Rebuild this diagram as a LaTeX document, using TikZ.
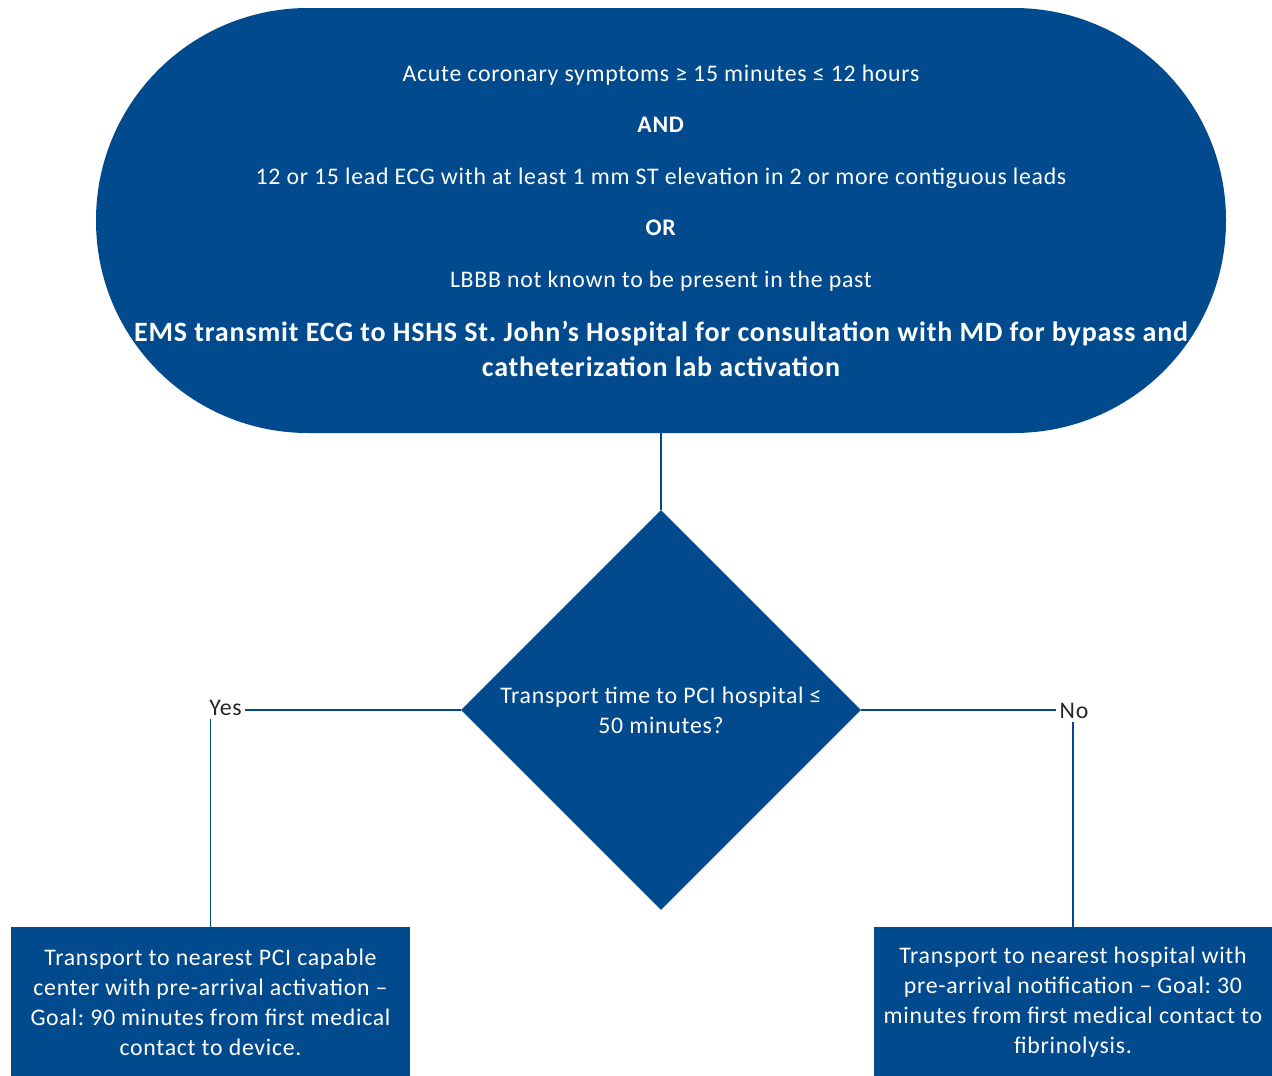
\documentclass[tikz,border=0pt]{standalone}
\usepackage{fontspec}
\setmainfont{Carlito}[LetterSpace=3]
\frenchspacing
\usetikzlibrary{shapes.geometric}
\definecolor{emsblue}{RGB}{0,74,141}

\begin{document}
\begin{tikzpicture}[x=1pt,y=-1pt,
	stadium/.style={fill=emsblue, draw=none, rounded corners=212pt, minimum width=1130pt, minimum height=425pt, text=white, align=flush center, text width=1120pt, inner sep=0pt, font=\fontsize{23.8}{51.5}\selectfont},
	decision/.style={diamond, fill=emsblue, minimum width=400pt, minimum height=400pt, inner sep=0pt, text=white, align=center, font=\fontsize{23.8}{30}\selectfont},
	outcome/.style={fill=emsblue, minimum width=399pt, minimum height=150pt, inner sep=0pt, text=white, align=center, font=\fontsize{23.8}{30}\selectfont},
	answer/.style={text=black!85, inner sep=3pt, font=\fontsize{23.8}{26}\selectfont},
	link/.style={draw=emsblue, line width=1.3pt}]
			%%%%% START %%%%%
			
			\useasboundingbox (0,0) rectangle (1272,1076);
			
			\node[stadium] (ecg) at (661,220.5) {Acute coronary symptoms ≥ 15 minutes ≤ 12 hours\\ \textbf{AND}\\ 12 or 15 lead ECG with at least 1 mm ST elevation in 2 or more contiguous leads\\ \textbf{OR}\\ LBBB not known to be present in the past\par\vspace{19pt}{\fontsize{28}{35}\selectfont\bfseries EMS transmit ECG to HSHS St. John’s Hospital for consultation with MD for bypass and\\ catheterization lab activation\par}};
			
			\node[decision] (pci) at (661,710) {Transport time to PCI hospital ≤\\ 50 minutes?};
			
			\node[answer] (yes) at (225.5,708) {Yes};
			\node[answer] (no) at (1074,711) {No};
			
			\node[outcome] (near) at (210.5,1002) {Transport to nearest PCI capable\\ center with pre-arrival activation –\\ Goal: 90 minutes from first medical\\ contact to device.};
			\node[outcome] (lytic) at (1073,1002) {Transport to nearest hospital with\\ pre-arrival notification – Goal: 30\\ minutes from first medical contact to\\ fibrinolysis.};
			
			\draw[link] (ecg.south) -- (pci.north);
			\draw[link] (pci.west) -- (pci.west -| yes.east);
			\draw[link] (yes.south -| near.north) -- (near.north);
			\draw[link] (pci.east) -- (pci.east -| no.west);
			\draw[link] (no.south -| lytic.north) -- (lytic.north);
			
			%%%%% END %%%%%
\end{tikzpicture}
\end{document}
